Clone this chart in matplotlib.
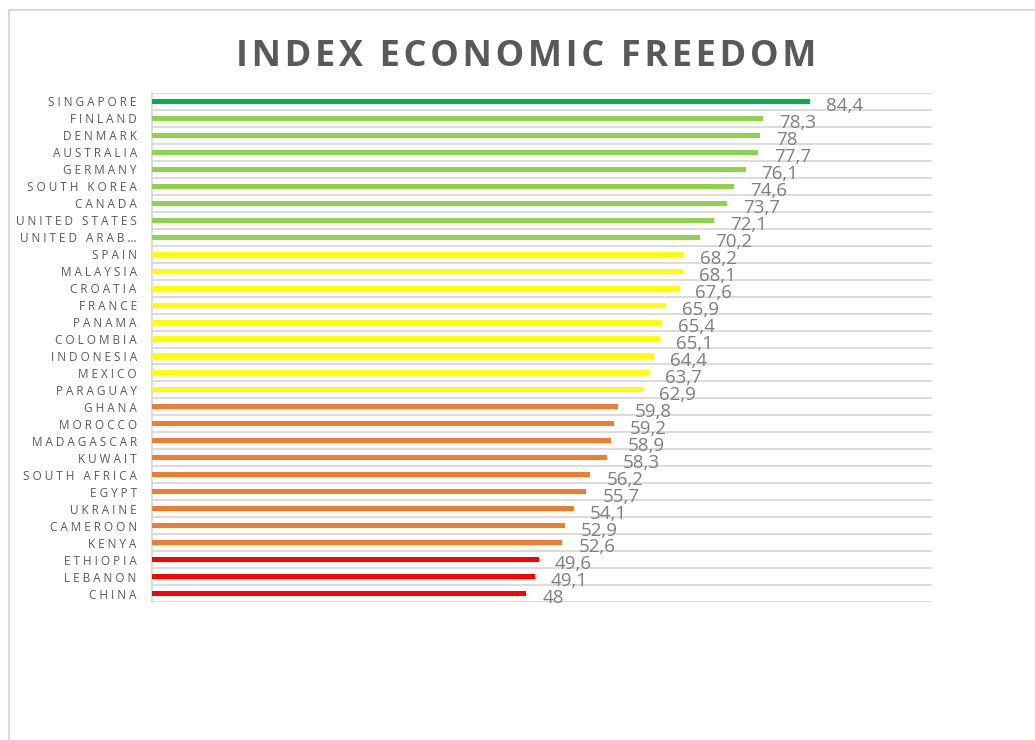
import matplotlib
matplotlib.use("Agg")
import matplotlib.pyplot as plt
from matplotlib.patches import Rectangle

countries = ["SINGAPORE", "FINLAND", "DENMARK", "AUSTRALIA", "GERMANY", "SOUTH KOREA",
             "CANADA", "UNITED STATES", "UNITED ARAB…", "SPAIN", "MALAYSIA", "CROATIA",
             "FRANCE", "PANAMA", "COLOMBIA", "INDONESIA", "MEXICO", "PARAGUAY", "GHANA",
             "MOROCCO", "MADAGASCAR", "KUWAIT", "SOUTH AFRICA", "EGYPT", "UKRAINE",
             "CAMEROON", "KENYA", "ETHIOPIA", "LEBANON", "CHINA"]
scores = [84.4, 78.3, 78.0, 77.7, 76.1, 74.6, 73.7, 72.1, 70.2, 68.2, 68.1, 67.6, 65.9,
          65.4, 65.1, 64.4, 63.7, 62.9, 59.8, 59.2, 58.9, 58.3, 56.2, 55.7, 54.1, 52.9,
          52.6, 49.6, 49.1, 48.0]
groups = ["top"] + ["free"] * 8 + ["moderate"] * 9 + ["mostly_unfree"] * 9 + ["repressed"] * 3
group_colors = {"top": "#00B050", "free": "#92D050", "moderate": "#FFFF00",
                "mostly_unfree": "#ED7D31", "repressed": "#FF0000"}
title = "INDEX ECONOMIC FREEDOM"

FONT = ["Open Sans", "DejaVu Sans"]
plt.rcParams["font.family"] = FONT

fig = plt.figure(figsize=(10.35, 7.4), dpi=100)
# outer chart frame
fig.patches.append(Rectangle((9 / 1035, -0.1), 1.2, 1 - 10 / 740 + 0.1,
                             transform=fig.transFigure, fill=False,
                             edgecolor="#D9D9D9", linewidth=1.5))

ax = fig.add_axes([152 / 1035, 1 - 602 / 740, 780 / 1035, 509 / 740])
n = len(countries)
ypos = list(range(n))
colors = [group_colors[g] for g in groups]
ax.barh(ypos, scores, height=0.3, color=colors, zorder=3)
ax.set_xlim(0, 100)
ax.set_ylim(n - 0.5, -0.5)

# category gridlines at boundaries
for b in range(n + 1):
    ax.axhline(b - 0.5, color="#D9D9D9", linewidth=1.3, zorder=1)

def letterspace(s, sep):
    return "   ".join(sep.join(w) for w in s.split(" "))

ax.set_yticks(ypos)
ax.set_yticklabels([letterspace(c, " ") for c in countries], fontsize=8.5, color="#595959")
ax.tick_params(axis="y", length=0, pad=11)
ax.set_xticks([])
for s in ["top", "right", "bottom"]:
    ax.spines[s].set_visible(False)
ax.spines["left"].set_color("#D9D9D9")
ax.spines["left"].set_linewidth(1.3)

def fmt(v):
    s = f"{v:.1f}"
    if s.endswith(".0"):
        s = s[:-2]
    return s.replace(".", ",")

for y, v in zip(ypos, scores):
    ax.annotate(fmt(v), (v, y), xytext=(11.5, -3.5), textcoords="offset points",
                ha="left", va="center", fontsize=13.5, color="#7F7F7F", zorder=4)

fig.text(526 / 1035, 1 - 57 / 740, "\u200a".join(title), ha="center", va="center",
         fontsize=26, fontweight="bold", color="#595959")

fig.savefig("out.png", dpi=100)
